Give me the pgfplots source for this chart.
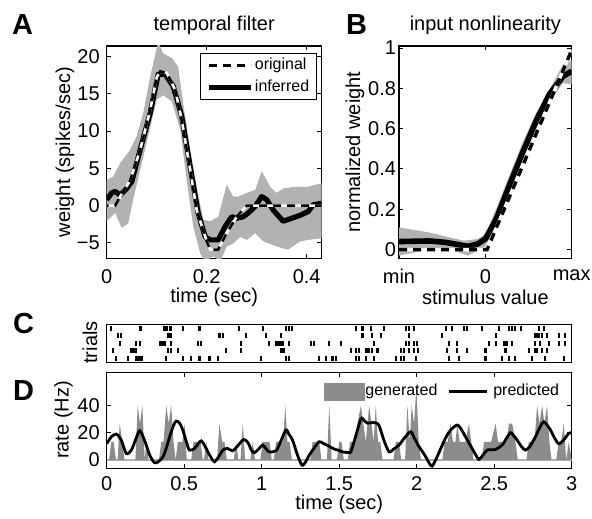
\documentclass[border=0pt]{standalone}
\usepackage{fontspec}
\setmainfont{Liberation Sans}
\usepackage{pgfplots}
\pgfplotsset{compat=1.18}
\definecolor{bandA}{gray}{0.70}
\definecolor{genD}{gray}{0.55}
\definecolor{baseD}{gray}{0.70}
\pgfplotsset{
  myaxis/.style={
    scale only axis, anchor=south west,
    axis line style={line width=0.6pt},
    every tick/.style={line width=0.5pt, black},
    major tick length=2.2pt,
    tick align=inside,
    tick label style={font=\fontsize{10}{12}\selectfont},
    xticklabel style={yshift=-2pt},
  },
}
\begin{document}
\fontsize{10}{12}\selectfont
\begin{tikzpicture}[x=1pt,y=1pt]
\path[use as bounding box] (0,0) rectangle (296,259);

% ---------------- Panel A ----------------
\begin{axis}[myaxis, at={(53.35pt,129.85pt)}, width=107.5pt, height=106.15pt,
  xmin=0, xmax=0.43, ymin=-7.07, ymax=21.4,
  xtick={0,0.2,0.4}, xticklabels={0,0.2,0.4},
  ytick={-5,0,5,10,15,20}, yticklabels={−5,0,5,10,15,20},
  legend style={at={(axis description cs:1,1)}, anchor=north east, xshift=-2.2pt, yshift=-3.65pt,
    draw=black, line width=0.5pt, fill=white, inner xsep=3.3pt, inner ysep=1.8pt, row sep=2.6pt,
    font=\fontsize{8}{9.6}\selectfont, nodes={inner sep=0.5pt}},
  legend cell align=left]
\addplot[fill=bandA, draw=none, forget plot] coordinates {
(0,3.4) (0.013,3.9) (0.027,5.7) (0.047,7.5) (0.06,9.3) (0.073,12.4) (0.087,17.3) (0.103,22) (0.113,20.4) (0.13,19.8) (0.143,18.6) (0.153,13.7) (0.167,7.5) (0.18,2.5) (0.193,-1.9) (0.207,-2.1) (0.223,-1.5) (0.24,2.8) (0.253,1.2) (0.263,1.2) (0.28,1.7) (0.297,2.1) (0.31,4.6) (0.327,2.5) (0.34,1.7) (0.353,2.3) (0.373,2.5) (0.4,2.5) (0.43,3.0)
(0.43,-4.4) (0.403,-4.6) (0.387,-4.8) (0.363,-5.9) (0.35,-5.7) (0.333,-5.3) (0.313,-4.8) (0.297,-3.7) (0.28,-4.6) (0.267,-4.2) (0.253,-5.1) (0.24,-5.5) (0.227,-7.5) (0.213,-6.8) (0.197,-7.5) (0.187,-6.4) (0.173,-2.8) (0.16,3.4) (0.147,10.2) (0.13,14) (0.113,14.8) (0.1,14.2) (0.083,9.3) (0.067,4.8) (0.053,0.8) (0.043,-2.4) (0.03,-3.0) (0.017,-1) (0,-2.1)};
\addplot[black, line width=2.6pt, line join=round, forget plot] coordinates {
(0,0.8) (0.01,1.7) (0.017,1.9) (0.027,1.4) (0.04,2.3) (0.05,3.2) (0.067,7.5) (0.087,12.4) (0.103,17.6) (0.117,17.6) (0.133,16) (0.15,12) (0.167,5.2) (0.183,-1) (0.197,-4.2) (0.207,-4.6) (0.223,-4.6) (0.237,-2.8) (0.25,-1.5) (0.26,-1.7) (0.273,-1.5) (0.283,-1) (0.297,-0.1) (0.31,1.2) (0.32,0.8) (0.333,-0.6) (0.353,-2.1) (0.37,-1.7) (0.387,-1.3) (0.403,-0.8) (0.413,0.1) (0.43,0.3)};
\addplot[white, line width=1.3pt, forget plot] coordinates {
(0,0) (0.017,0) (0.027,1.2) (0.047,3.4) (0.067,7.5) (0.087,12.8) (0.1,17.2) (0.107,18) (0.12,17.8) (0.137,15.5) (0.15,11.5) (0.167,4.8) (0.18,-0.6) (0.2,-4.8) (0.207,-5.9) (0.223,-5.9) (0.24,-3.7) (0.26,-1.5) (0.28,0) (0.43,0)};
\addplot[black, line width=1.3pt, dash pattern=on 4pt off 3pt, dash phase=3pt, forget plot] coordinates {
(0,0) (0.017,0) (0.027,1.2) (0.047,3.4) (0.067,7.5) (0.087,12.8) (0.1,17.2) (0.107,18) (0.12,17.8) (0.137,15.5) (0.15,11.5) (0.167,4.8) (0.18,-0.6) (0.2,-4.8) (0.207,-5.9) (0.223,-5.9) (0.24,-3.7) (0.26,-1.5) (0.28,0) (0.43,0)};
\addlegendimage{legend image code/.code={\draw[black, line width=1.3pt, dash pattern=on 4pt off 3pt] (0pt,0pt) -- (21pt,0pt);}}
\addlegendentry{original}
\addlegendimage{legend image code/.code={\draw[black, line width=2.6pt] (0pt,0pt) -- (21pt,0pt);}}
\addlegendentry{inferred}
\end{axis}

% ---------------- Panel B ----------------
\begin{axis}[myaxis, at={(199.5pt,129.85pt)}, width=86.35pt, height=106.15pt,
  xmin=-1, xmax=1, ymin=-0.043, ymax=1.01,
  xtick={-1,0,1}, xticklabels={min,0,max},
  ytick={0,0.2,0.4,0.6,0.8,1}, yticklabels={0,0.2,0.4,0.6,0.8,1},
  yticklabel style={xshift=2pt}]
\addplot[fill=bandA, draw=none] coordinates {
(-1,0.11) (-0.65,0.085) (-0.25,0.044) (-0.09,0.053) (0,0.077) (0.124,0.2) (0.28,0.37) (0.43,0.53) (0.59,0.68) (0.74,0.79) (0.9,0.92) (1,0.94)
(1,0.82) (0.9,0.826) (0.74,0.73) (0.59,0.6) (0.43,0.45) (0.28,0.29) (0.124,0.12) (0,0.016) (-0.2,-0.03) (-0.4,0.0) (-0.65,0.0) (-1,-0.03)};
\addplot[black, line width=2.8pt, line join=round] coordinates {
(-1,0.04) (-0.65,0.043) (-0.46,0.036) (-0.2,0.016) (-0.09,0.028) (0,0.053) (0.124,0.15) (0.28,0.32) (0.43,0.48) (0.59,0.64) (0.74,0.77) (0.9,0.86) (1,0.885)};
\addplot[white, line width=1.7pt] coordinates {(-1,0) (0.02,0) (1,0.99)};
\addplot[black, line width=1.7pt, dash pattern=on 4pt off 3pt] coordinates {(-1,0) (0.02,0) (1,0.99)};
\end{axis}

% ---------------- Panel C ----------------
\begin{axis}[myaxis, at={(53.35pt,77.85pt)}, width=232.5pt, height=19pt,
  xmin=0, xmax=3, ymin=0.45, ymax=5.55, y dir=reverse,
  xtick=\empty, ytick=\empty]
\addplot[only marks, mark=|, mark size=1.2pt, mark options={line width=1.05pt, black}] coordinates {
(0.030,1) (0.212,1) (0.223,1) (0.373,1) (0.388,1) (0.406,1) (0.416,1) (0.491,1) (0.599,1) (0.856,1) (1.006,1) (1.157,1) (1.178,1) (1.195,1)
(1.607,1) (1.650,1) (1.704,1) (1.790,1) (1.929,1) (1.951,1) (1.983,1) (2.187,1) (2.230,1) (2.305,1) (2.326,1) (2.423,1) (2.530,1) (2.595,1) (2.616,1) (2.637,1) (2.670,1) (2.788,1) (2.820,1)
(0.073,2) (0.094,2) (0.395,2) (0.406,2) (0.416,2) (0.728,2) (0.749,2) (0.899,2) (1.028,2) (1.124,2)
(1.650,2) (1.714,2) (1.768,2) (1.951,2) (2.165,2) (2.509,2) (2.766,2) (2.777,2) (2.788,2) (2.809,2) (2.841,2) (2.916,2) (2.959,2)
(0.084,3) (0.191,3) (0.212,3) (0.341,3) (0.358,3) (0.373,3) (0.416,3) (0.588,3) (0.609,3) (0.867,3) (1.049,3) (1.092,3) (1.103,3) (1.114,3) (1.125,3) (1.135,3) (1.178,3) (1.318,3) (1.339,3) (1.436,3)
(1.511,3) (1.725,3) (1.929,3) (1.951,3) (1.983,3) (2.004,3) (2.208,3) (2.262,3) (2.466,3) (2.509,3) (2.562,3) (2.573,3) (2.584,3) (2.616,3) (2.766,3) (2.798,3) (2.852,3) (2.916,3) (2.959,3)
(0.041,4) (0.159,4) (0.170,4) (0.180,4) (0.191,4) (0.395,4) (0.416,4) (0.459,4) (0.770,4) (0.867,4) (1.124,4) (1.135,4) (1.146,4)
(1.575,4) (1.607,4) (1.629,4) (1.672,4) (1.683,4) (1.693,4) (1.714,4) (1.747,4) (1.897,4) (1.918,4) (1.951,4) (1.983,4) (2.011,4) (2.197,4) (2.262,4) (2.326,4) (2.444,4) (2.573,4) (2.723,4) (2.766,4) (2.777,4) (2.809,4) (2.841,4)
(0.062,5) (0.137,5) (0.191,5) (0.202,5) (0.212,5) (0.227,5) (0.384,5) (0.491,5) (0.545,5) (0.599,5) (0.663,5) (0.717,5) (0.996,5) (1.157,5) (1.178,5) (1.371,5) (1.414,5) (1.457,5)
(1.479,5) (1.607,5) (1.629,5) (1.672,5) (1.725,5) (1.865,5) (1.897,5) (1.918,5) (1.994,5) (2.208,5) (2.273,5) (2.444,5) (2.552,5) (2.595,5) (2.637,5) (2.745,5) (2.830,5) (2.948,5)};
\end{axis}

% ---------------- Panel D ----------------
\begin{axis}[myaxis, at={(53.35pt,24.85pt)}, width=232.5pt, height=47.9pt,
  xmin=0, xmax=3, ymin=-6, ymax=64,
  xtick={0,0.5,1,1.5,2,2.5,3}, xticklabels={0,0.5,1,1.5,2,2.5,3},
  xticklabel style={yshift=1.2pt},
  ytick={0,20,40}, yticklabels={0,20,40},
  legend style={at={(axis description cs:1,1)}, anchor=north east, xshift=-5.6pt, yshift=-4.8pt,
    draw=none, fill=none, inner sep=0pt, font=\fontsize{8}{9.6}\selectfont, nodes={inner sep=0.5pt},
    /tikz/every even column/.append style={column sep=4.5pt}},
  legend columns=2, legend cell align=left]
\addplot[baseD, line width=1pt, forget plot] coordinates {(0,0) (3,0)};
\addplot[fill=genD, draw=none, forget plot] coordinates {
(0,0) (0.015,0) (0.030,13.33) (0.045,13.33) (0.060,0) (0.070,0) (0.084,26.67) (0.100,13.33) (0.115,0)
(0.185,0) (0.200,40) (0.215,26.67) (0.230,40) (0.245,0) (0.255,13.33) (0.270,0)
(0.337,0) (0.352,13.33) (0.367,13.33) (0.384,40) (0.400,26.67) (0.416,40) (0.431,13.33) (0.445,0) (0.459,13.33) (0.474,13.33) (0.488,13.33) (0.502,26.67) (0.517,0)
(0.545,0) (0.560,13.33) (0.575,13.33) (0.590,13.33) (0.605,13.33) (0.620,0)
(0.627,0) (0.642,13.33) (0.657,0)
(0.712,0) (0.727,26.67) (0.745,13.33) (0.760,13.33) (0.775,0)
(0.820,0) (0.835,13.33) (0.850,0)
(0.863,0) (0.878,26.67) (0.893,0)
(0.927,0) (0.942,13.33) (0.957,0)
(0.991,0) (1.006,13.33) (1.021,13.33) (1.036,13.33) (1.050,13.33) (1.065,0)
(1.078,0) (1.093,13.33) (1.108,13.33) (1.123,13.33) (1.138,13.33) (1.152,40) (1.166,13.33) (1.180,13.33) (1.195,0)
(1.313,0) (1.328,13.33) (1.343,13.33) (1.358,13.33) (1.371,13.33) (1.386,0)
(1.421,0) (1.436,40) (1.451,0)
(1.485,0) (1.500,13.33) (1.515,13.33) (1.530,0)
(1.555,0) (1.570,13.33) (1.585,13.33) (1.600,13.33) (1.618,26.67) (1.640,40) (1.655,26.67) (1.672,13.33) (1.693,40) (1.708,26.67) (1.722,13.33) (1.736,40) (1.750,13.33) (1.765,13.33) (1.780,0)
(1.850,0) (1.865,13.33) (1.886,13.33) (1.900,0)
(1.925,0) (1.940,40) (1.955,13.33) (1.968,40) (1.983,26.67) (1.998,53.33) (2.013,13.33) (2.028,0)
(2.165,0) (2.180,13.33) (2.200,13.33) (2.219,26.67) (2.234,13.33) (2.250,13.33) (2.262,26.67) (2.277,13.33) (2.295,13.33) (2.315,13.33) (2.337,26.67) (2.352,13.33) (2.367,0)
(2.420,0) (2.434,13.33) (2.450,13.33) (2.466,13.33) (2.480,13.33) (2.509,26.67) (2.525,13.33) (2.552,13.33) (2.580,13.33) (2.595,26.67) (2.616,26.67) (2.637,13.33) (2.652,0)
(2.708,0) (2.723,13.33) (2.740,13.33) (2.760,13.33) (2.777,40) (2.792,26.67) (2.809,40) (2.824,26.67) (2.841,40) (2.856,13.33) (2.870,0)
(2.900,0) (2.916,13.33) (2.932,13.33) (2.949,26.67) (2.964,0) (2.981,13.33) (3.000,0)};
\addplot[black, line width=1.4pt, smooth, forget plot] coordinates {
(0,12) (0.008,13.4) (0.03,17) (0.062,19) (0.094,14.6) (0.126,4.9) (0.159,7.3) (0.19,16) (0.212,21.5) (0.235,17) (0.255,11) (0.28,3) (0.309,-2) (0.335,-1) (0.363,2.4) (0.385,9) (0.406,17) (0.43,25) (0.448,28.5) (0.47,27) (0.491,22) (0.515,13) (0.534,7.3) (0.567,8.5) (0.59,12) (0.61,14) (0.63,11) (0.653,6) (0.675,1.5) (0.696,-1.2) (0.72,2) (0.75,7.3) (0.78,8.5) (0.813,6.8) (0.85,11) (0.882,15) (0.91,13) (0.935,7) (0.953,5.4) (0.98,8) (1.006,11) (1.03,8) (1.049,6) (1.092,6.8) (1.12,13) (1.156,22) (1.175,19) (1.199,14.6) (1.23,4) (1.26,-3.7) (1.285,-1) (1.307,3.7) (1.34,9) (1.371,13.4) (1.40,12) (1.436,10) (1.47,8) (1.5,7) (1.521,6) (1.56,5.5) (1.575,6) (1.6,15) (1.64,30) (1.66,29) (1.683,27) (1.72,27.5) (1.74,27) (1.758,25) (1.79,14) (1.822,6) (1.85,8) (1.886,11) (1.92,16) (1.961,20.7) (1.985,16) (2.015,9.8) (2.05,4) (2.08,-2) (2.1,-4.4) (2.13,2) (2.165,11) (2.19,17) (2.219,22) (2.262,25.6) (2.29,22) (2.315,17) (2.35,10) (2.38,4) (2.401,0.5) (2.43,4) (2.455,7.3) (2.509,7.8) (2.551,11) (2.58,16) (2.605,20) (2.625,18) (2.648,14.6) (2.675,10) (2.702,7.3) (2.73,10) (2.766,17) (2.795,24) (2.82,28) (2.845,25) (2.863,22) (2.89,16) (2.917,12) (2.95,15) (2.981,19.5) (3.0,20)};
\addlegendimage{legend image code/.code={\fill[genD] (0pt,-4.25pt) rectangle (20pt,4.25pt);}}
\addlegendentry{generated}
\addlegendimage{legend image code/.code={\draw[black, line width=1.4pt] (0pt,0pt) -- (19pt,0pt); \path (21.5pt,0pt);}}
\addlegendentry{predicted}
\end{axis}

% ---------------- Labels ----------------
\node[font=\fontsize{14.5}{16}\bfseries\selectfont] at (11.25,246.5) {A};
\node[font=\fontsize{14.5}{16}\bfseries\selectfont] at (178.25,246.5) {B};
\node[font=\fontsize{14.5}{16}\bfseries\selectfont] at (11.75,97.25) {C};
\node[font=\fontsize{14.5}{16}\bfseries\selectfont] at (11.75,63.75) {D};
\node at (107.1,246.5) {temporal filter};
\node at (242.7,246.5) {input nonlinearity};
\node[rotate=90] at (32.5,182.9) {weight (spikes/sec)};
\node at (107.1,110.5) {time (sec)};
\node[rotate=90] at (177.5,182.9) {normalized weight};
\node at (242.7,110.5) {stimulus value};
\node[rotate=90] at (45,87.75) {trials};
\node[rotate=90] at (31.75,49) {rate (Hz)};
\node[inner sep=0pt] at (169.6,6.6) {time (sec)};
\end{tikzpicture}
\end{document}
